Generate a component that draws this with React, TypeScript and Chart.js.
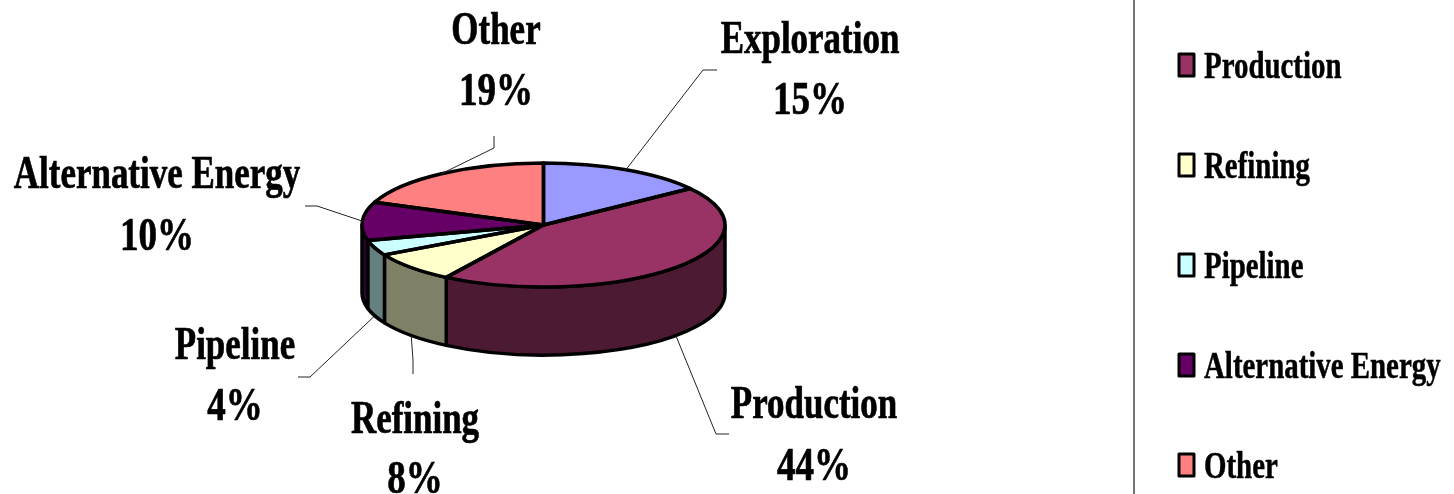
import React, { useEffect, useRef } from "react";
import { Chart, registerables, Plugin } from "chart.js";

Chart.register(...registerables);

const categories = ["Exploration", "Production", "Refining", "Pipeline", "Alternative Energy", "Other"];
const shares = [15, 44, 8, 4, 10, 19];
const topColors = ["#9999FF", "#993366", "#FFFFCC", "#CCFFFF", "#660066", "#FF8080"];
const sideColors = ["#4D4D80", "#4D1A33", "#808066", "#668080", "#330033", "#804040"];

const WIDTH = 1454;
const HEIGHT = 494;
const CX = 543.5;
const CY = 225;
const RX = 181.5;
const RY = 62;
const DEPTH = 68;
const NAME_SQUEEZE = 0.76;
const PERCENT_SQUEEZE = 0.805;
const LEGEND_SQUEEZE = 0.76;

// Label anchor, text baselines and leader-line route for each slice, in slice order.
const labelLayout = [
  { x: 810, y1: 53, y2: 114, leader: [[703, 70], [717, 70]] },
  { x: 814, y1: 418, y2: 480, leader: [[716, 434], [729, 434]] },
  { x: 415, y1: 433, y2: 493, leader: [[413, 360], [413, 374]] },
  { x: 235, y1: 359, y2: 420, leader: [[310, 377], [298, 377]] },
  { x: 157, y1: 188, y2: 250, leader: [[317, 206], [305, 206]] },
  { x: 496, y1: 44, y2: 105, leader: [[494, 148], [494, 136]] },
];

function squeezedText(ctx: CanvasRenderingContext2D, text: string, x: number, y: number, squeeze: number) {
  const w = ctx.measureText(text).width * squeeze;
  ctx.fillText(text, x, y, w);
  ctx.strokeText(text, x, y, w);
}

const pie3d: Plugin<"pie"> = {
  id: "pie3d",
  beforeDatasetsDraw(chart) {
    const ctx = chart.ctx;
    const arcs = chart.getDatasetMeta(0).data as any[];
    ctx.save();
    ctx.lineJoin = "round";
    ctx.lineWidth = 3.5;
    ctx.strokeStyle = "#000";
    arcs.forEach((arc, i) => {
      const a = Math.max(arc.startAngle, 0);
      const b = Math.min(arc.endAngle, Math.PI);
      if (b <= a) return;
      ctx.beginPath();
      ctx.ellipse(CX, CY, RX, RY, 0, a, b);
      ctx.lineTo(CX + RX * Math.cos(b), CY + RY * Math.sin(b) + DEPTH);
      ctx.ellipse(CX, CY + DEPTH, RX, RY, 0, b, a, true);
      ctx.closePath();
      ctx.fillStyle = sideColors[i];
      ctx.fill();
      ctx.stroke();
    });
    ctx.restore();
    // Squash the library's round pie into the tilted top face.
    ctx.save();
    ctx.translate(CX, CY);
    ctx.scale(1, RY / RX);
    ctx.translate(-CX, -CY);
  },
  afterDatasetsDraw(chart) {
    const ctx = chart.ctx;
    ctx.restore();
    const arcs = chart.getDatasetMeta(0).data as any[];
    ctx.save();
    ctx.lineJoin = "round";
    ctx.lineWidth = 3.5;
    ctx.strokeStyle = "#000";
    arcs.forEach((arc) => {
      ctx.beginPath();
      ctx.moveTo(CX, CY);
      ctx.ellipse(CX, CY, RX, RY, 0, arc.startAngle, arc.endAngle);
      ctx.closePath();
      ctx.stroke();
    });
    ctx.restore();

    // Leader lines
    ctx.save();
    ctx.lineWidth = 1;
    ctx.strokeStyle = "#222";
    arcs.forEach((arc, i) => {
      const mid = (arc.startAngle + arc.endAngle) / 2;
      const sy = Math.sin(mid);
      const sx = CX + RX * Math.cos(mid);
      const y = CY + RY * sy + (sy > 0 ? DEPTH : 0);
      ctx.beginPath();
      ctx.moveTo(sx, y);
      labelLayout[i].leader.forEach(([lx, ly]) => ctx.lineTo(lx, ly));
      ctx.stroke();
    });
    ctx.restore();

    // Slice labels
    ctx.save();
    ctx.fillStyle = "#000";
    ctx.strokeStyle = "#000";
    ctx.lineWidth = 0.7;
    ctx.textAlign = "center";
    ctx.textBaseline = "alphabetic";
    ctx.font = 'bold 46px "Liberation Serif"';
    categories.forEach((name, i) => {
      const l = labelLayout[i];
      squeezedText(ctx, name, l.x, l.y1, NAME_SQUEEZE);
      squeezedText(ctx, `${shares[i]}%`, l.x, l.y2, PERCENT_SQUEEZE);
    });
    ctx.restore();

    // Legend, whose top entry runs off the top of the picture
    ctx.save();
    ctx.strokeStyle = "#444";
    ctx.lineWidth = 1.5;
    ctx.beginPath();
    ctx.moveTo(1134, 0);
    ctx.lineTo(1134, HEIGHT);
    ctx.stroke();
    ctx.font = 'bold 38px "Liberation Serif"';
    ctx.textAlign = "left";
    categories.forEach((name, i) => {
      const y = -35 + i * 100;
      ctx.fillStyle = topColors[i];
      ctx.strokeStyle = "#000";
      ctx.lineWidth = 3;
      ctx.lineJoin = "round";
      ctx.fillRect(1179, y - 11, 15, 22);
      ctx.strokeRect(1179, y - 11, 15, 22);
      ctx.fillStyle = "#000";
      ctx.lineWidth = 0.5;
      squeezedText(ctx, name, 1204, y + 13, LEGEND_SQUEEZE);
    });
    ctx.restore();
  },
};

export default function App() {
  const ref = useRef<HTMLCanvasElement>(null);
  useEffect(() => {
    const chart = new Chart(ref.current!, {
      type: "pie",
      data: {
        labels: categories,
        datasets: [{ data: shares, backgroundColor: topColors, borderWidth: 0 }],
      },
      options: {
        animation: false,
        responsive: false,
        devicePixelRatio: 1,
        layout: {
          padding: {
            left: CX - RX,
            right: WIDTH - CX - RX,
            top: CY - RX,
            bottom: HEIGHT - CY - RX,
          },
        },
        plugins: { legend: { display: false }, tooltip: { enabled: false } },
      },
      plugins: [pie3d],
    });
    return () => chart.destroy();
  }, []);
  return (
    <div style={{ position: "fixed", left: 0, top: 0, width: WIDTH, height: HEIGHT, background: "#fff", overflow: "hidden" }}>
      <canvas ref={ref} width={WIDTH} height={HEIGHT} style={{ display: "block" }} />
    </div>
  );
}
